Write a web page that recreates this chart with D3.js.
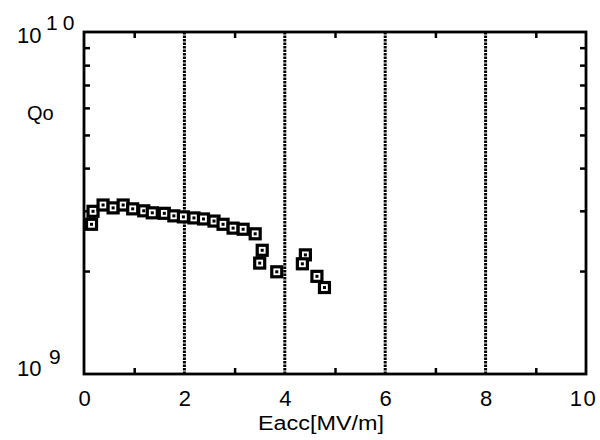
<!DOCTYPE html>
<html>
<head>
<meta charset="utf-8">
<script src="https://cdn.jsdelivr.net/npm/d3@7"></script>
<style>
  body { margin: 0; background: #fff; }
  text { font-family: "Liberation Sans", Arial, sans-serif; fill: #000; }
</style>
</head>
<body>
<div id="chart"></div>
<script>
'use strict';

// Eacc [MV/m] and Qo
var eacc = [0.15, 0.18, 0.38, 0.58, 0.78, 0.97, 1.19, 1.36, 1.60, 1.79, 1.98, 2.19, 2.38,
            2.59, 2.77, 2.97, 3.17, 3.41, 3.55, 3.50, 3.84, 4.41, 4.35, 4.64, 4.79];
var qo   = [2.74e9, 2.99e9, 3.12e9, 3.06e9, 3.12e9, 3.04e9, 3.00e9, 2.96e9, 2.95e9, 2.90e9,
            2.88e9, 2.86e9, 2.84e9, 2.80e9, 2.74e9, 2.67e9, 2.65e9, 2.57e9, 2.30e9, 2.11e9,
            1.99e9, 2.23e9, 2.10e9, 1.93e9, 1.79e9];

var xLabels = [0, 2, 4, 6, 8, 10];
var xMinor  = [1, 3, 5, 7, 9];
var xGrid   = [2, 4, 6, 8];
var yMinor  = [2e9, 3e9, 4e9, 5e9, 6e9, 7e9, 8e9, 9e9];

var data = eacc.map(function(d, i) { return {x: d, y: qo[i]}; });

var margin = {top: 32, right: 14, bottom: 66, left: 84},
    width  = 600 - margin.left - margin.right,
    height = 440 - margin.top  - margin.bottom;

var x = d3.scaleLinear().domain([0, 10]).range([0, width]);
var y = d3.scaleLog().domain([1e9, 1e10]).range([height, 0]);

var svg = d3.select("#chart").append("svg")
    .attr("width", 600).attr("height", 440)
    .append("g").attr("transform", "translate(" + margin.left + "," + margin.top + ")");

// dotted vertical grid lines
svg.selectAll(".grid").data(xGrid).enter().append("line")
    .attr("x1", function(d) { return x(d); }).attr("x2", function(d) { return x(d); })
    .attr("y1", 0).attr("y2", height)
    .attr("stroke", "#000").attr("stroke-width", 3)
    .attr("stroke-dasharray", "2.5,1");

// minor ticks, pointing inward
function tickAxis(g, axis) {
    g.call(axis);
    g.select(".domain").remove();
    g.selectAll(".tick line").attr("stroke", "#000").attr("stroke-width", 2.5);
}
svg.append("g").attr("transform", "translate(0," + height + ")")
    .call(tickAxis, d3.axisBottom(x).tickValues(xMinor).tickSize(-6).tickFormat(""));
svg.append("g")
    .call(tickAxis, d3.axisTop(x).tickValues(xMinor).tickSize(-6).tickFormat(""));
svg.append("g")
    .call(tickAxis, d3.axisLeft(y).tickValues(yMinor).tickSize(-6).tickFormat(""));
svg.append("g").attr("transform", "translate(" + width + ",0)")
    .call(tickAxis, d3.axisRight(y).tickValues(yMinor).tickSize(-6).tickFormat(""));

// frame
svg.append("rect")
    .attr("width", width).attr("height", height)
    .attr("fill", "none").attr("stroke", "#000").attr("stroke-width", 2.8);

// x tick labels
var xl = svg.append("g").attr("transform", "translate(0," + height + ")")
    .call(d3.axisBottom(x).tickValues(xLabels).tickSize(0).tickPadding(16)
        .tickFormat(function(d) { return d; }));
xl.select(".domain").remove();
xl.selectAll("text").attr("font-size", 22).attr("fill", "#000")
    .attr("font-family", "Liberation Sans, Arial, sans-serif")
    .attr("letter-spacing", function(d) { return d === 10 ? 1.5 : 0; })
    .attr("dx", function(d) { return d === 10 ? -3 : 0; });

// y decade labels
var dec = svg.append("g");
dec.append("text").attr("x", -67).attr("y", 11).attr("font-size", 22).text("10");
dec.append("text").attr("x", -38).attr("y", -2).attr("font-size", 21)
    .attr("letter-spacing", 5).text("10");
dec.append("text").attr("x", -67).attr("y", height + 2).attr("font-size", 22).text("10");
dec.append("text").attr("x", -35).attr("y", height - 10).attr("font-size", 21).text("9");

// axis titles
svg.append("text").attr("x", -57).attr("y", 88).attr("font-size", 20).text("Qo");
svg.append("text").attr("x", 174).attr("y", height + 56).attr("font-size", 20)
    .attr("textLength", 126).attr("lengthAdjust", "spacingAndGlyphs").text("Eacc[MV/m]");

// data markers: open squares with a centre dot
var pts = svg.selectAll(".pt").data(data).enter().append("g")
    .attr("transform", function(d) { return "translate(" + x(d.x) + "," + y(d.y) + ")"; });
pts.append("rect")
    .attr("x", -5).attr("y", -5).attr("width", 10).attr("height", 10)
    .attr("fill", "#fff").attr("stroke", "#000").attr("stroke-width", 3.2);
pts.append("rect")
    .attr("x", -1.5).attr("y", -1.5).attr("width", 3).attr("height", 3)
    .attr("fill", "#000");
</script>
</body>
</html>
